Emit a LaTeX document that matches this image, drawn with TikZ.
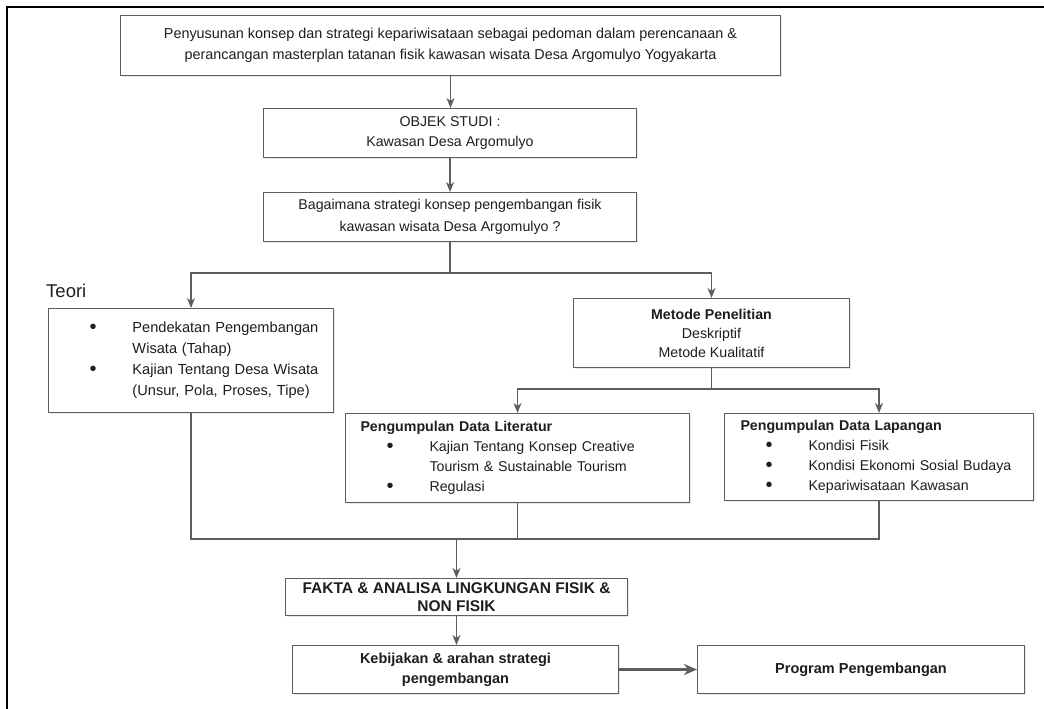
\documentclass[tikz,border=0pt]{standalone}
\usepackage{fontspec}
\setmainfont{Liberation Sans}
\usetikzlibrary{arrows.meta}
\usetikzlibrary{shadows}
\definecolor{linegray}{HTML}{5E5E5E}
\definecolor{txt}{HTML}{1E1E1E}
% bullet and indent for the list boxes
\newcommand{\blt}{\makebox[43pt][l]{\raisebox{-0.6pt}{\fontsize{20}{20}\selectfont\textbullet}}}
\newcommand{\lind}{\hspace*{41pt}}
\newcommand{\cind}{\hspace*{84pt}}

\begin{document}
\begin{tikzpicture}[x=1pt, y=-1pt,
  box/.style={draw=linegray, line width=1pt, fill=white, inner sep=0pt, anchor=north west,
    align=center, text=txt, font=\fontsize{14.2}{20}\selectfont,
    drop shadow={shadow xshift=1.2pt, shadow yshift=-1.2pt, fill=black!18}},
  listbox/.style={box, align=left},
  arr/.style={draw=linegray, line width=1.2pt, -{Stealth[length=10pt,width=8pt,inset=3pt]}},
  lin/.style={draw=linegray, line width=1.2pt}]
\useasboundingbox (0,0) rectangle (1044,709);
\draw[line width=2pt] (7,709) -- (7,7) -- (1044,7);

\node[box, minimum width=660, minimum height=60, font=\fontsize{14.4}{21}\selectfont] (goal) at (120,15)
  {Penyusunan konsep dan strategi kepariwisataan sebagai pedoman dalam perencanaan \&\\
   perancangan masterplan tatanan fisik kawasan wisata Desa Argomulyo Yogyakarta};
\node[box, minimum width=373, minimum height=49] (objek) at (263,108)
  {OBJEK STUDI :\\Kawasan Desa Argomulyo};
\node[box, minimum width=373, minimum height=49, font=\fontsize{14.2}{22}\selectfont] (masalah) at (263,192)
  {Bagaimana strategi konsep pengembangan fisik\\kawasan wisata Desa Argomulyo ?};

\node[anchor=base west, inner sep=0pt, text=txt, font=\fontsize{18.5}{20}\selectfont] (teorilbl) at (46,297) {Teori};
\node[listbox, minimum width=285, minimum height=104, text width=285, font=\fontsize{14.6}{21}\selectfont] (teori) at (48,308)
  {\lind\blt Pendekatan Pengembangan\\
   \cind Wisata (Tahap)\\
   \lind\blt Kajian Tentang Desa Wisata\\
   \cind (Unsur, Pola, Proses, Tipe)};
\node[box, minimum width=276, minimum height=69, font=\fontsize{14.2}{19}\selectfont] (metode) at (573,298)
  {\textbf{Metode Penelitian}\\Deskriptif\\Metode Kualitatif};

\node[listbox, minimum width=344, minimum height=89, text width=344] (literatur) at (345,413)
  {\hspace*{15pt}\textbf{Pengumpulan Data Literatur}\\
   \lind\blt Kajian Tentang Konsep Creative\\
   \cind Tourism \& Sustainable Tourism\\
   \lind\blt Regulasi};
\node[listbox, minimum width=309, minimum height=87, text width=309] (lapangan) at (724,413)
  {\hspace*{16pt}\textbf{Pengumpulan Data Lapangan}\\
   \lind\blt Kondisi Fisik\\
   \lind\blt Kondisi Ekonomi Sosial Budaya\\
   \lind\blt Kepariwisataan Kawasan};

\node[box, minimum width=342, minimum height=37, font=\fontsize{15.5}{18}\selectfont\bfseries] (fakta) at (285,578)
  {FAKTA \& ANALISA LINGKUNGAN FISIK \&\\NON FISIK};
\node[box, minimum width=326, minimum height=48, font=\fontsize{14.5}{20}\selectfont\bfseries] (kebijakan) at (292,645)
  {Kebijakan \& arahan strategi\\pengembangan};
\node[box, minimum width=327, minimum height=48, font=\fontsize{14.5}{20}\selectfont\bfseries] (program) at (697,645)
  {Program Pengembangan};

% connectors
\draw[arr] (goal.south) -- (goal.south |- objek.north);
\draw[arr] (objek.south) -- (objek.south |- masalah.north);
\draw[arr] (masalah.south) -- ++(0,31) -| (teori.north);
\draw[arr] (masalah.south) -- ++(0,31) -| (metode.north);
\draw[arr] (metode.south) -- ++(0,21) -| (literatur.north);
\draw[arr] (metode.south) -- ++(0,21) -| (lapangan.north);
\path (fakta.north) ++(0,-39) coordinate (join);
\draw[lin] (teori.south) |- (join);
\draw[lin] (literatur.south) |- (join);
\draw[lin] (lapangan.south) |- (join);
\draw[arr] (join) -- (fakta.north);
\draw[arr] (fakta.south) -- (fakta.south |- kebijakan.north);
\draw[arr, line width=2.5pt, -{Stealth[length=13pt,width=11pt,inset=4pt]}] (kebijakan) -- (program);
\end{tikzpicture}
\end{document}
